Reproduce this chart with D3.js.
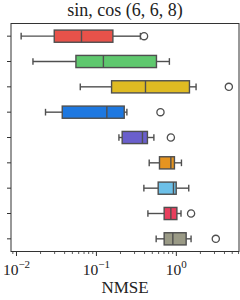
<!DOCTYPE html>
<meta charset="utf-8">
<style>
body { margin: 0; background: #fff; }
text { font-family: "Liberation Serif", "DejaVu Serif", serif; fill: #222; }
</style>
<body>
<script src="https://cdn.jsdelivr.net/npm/d3@7"></script>
<script>
// box stats per row (top to bottom), values in NMSE
var rows = ["r1", "r2", "r3", "r4", "r5", "r6", "r7", "r8", "r9"];
var whiskLo = [0.0116, 0.0163, 0.0637, 0.0234, 0.194, 0.464, 0.398, 0.447, 0.567];
var q1      = [0.0301, 0.0562, 0.157, 0.0379, 0.213, 0.624, 0.601, 0.714, 0.714];
var median  = [0.066, 0.124, 0.417, 0.137, 0.382, 0.866, 0.933, 0.866, 0.917];
var q3      = [0.163, 0.572, 1.48, 0.226, 0.441, 0.96, 1.01, 1.03, 1.345];
var whiskHi = [0.36, 0.83, 1.79, 0.244, 0.531, 1.175, 1.45, 1.16, 1.55];
var outliers = [[0.40], [], [4.6], [0.642], [0.866], [], [], [1.55], [3.16]];
var majorTicks = [0.01, 0.1, 1];
var tickExp = ["\u22122", "\u22121", "0"];

var colors = ["#e8524a", "#5fc86e", "#dfbb22", "#1e78e0", "#6a5fcc",
              "#e59420", "#6dc0e8", "#e83f5d", "#9a9a86"];
var edge = "#4f4f4f";

var W = 240, H = 300;
var margin = {top: 23.5, right: 1, bottom: 48.5, left: 11};

var svg = d3.select("body").append("svg")
    .attr("width", W)
    .attr("height", H);

var x = d3.scaleLog()
    .domain([Math.pow(10, -2.0625), Math.pow(10, 0.79)])
    .range([margin.left, W - margin.right]);

var y = d3.scaleBand()
    .domain(rows)
    .range([margin.top, H - margin.bottom])
    .padding(0);

var boxH = y.bandwidth() * 0.48;
var capH = boxH * 0.55;

// minor ticks
var minor = [];
[0.001, 0.01, 0.1, 1].forEach(function(d) {
  for (var k = 2; k <= 9; k++) {
    var v = d * k;
    if (v >= x.domain()[0] && v <= x.domain()[1]) minor.push(v);
  }
});

var bottom = H - margin.bottom;

svg.append("g")
    .attr("transform", "translate(0," + bottom + ")")
    .call(d3.axisBottom(x).tickValues(minor).tickSize(2.5).tickFormat(""))
    .call(function(g) {
      g.select(".domain").remove();
      g.selectAll("line").attr("stroke", "#333").attr("stroke-width", 0.8);
    });

var xAxis = svg.append("g")
    .attr("transform", "translate(0," + bottom + ")")
    .call(d3.axisBottom(x).tickValues(majorTicks).tickSize(4.5).tickFormat(""))
    .call(function(g) {
      g.select(".domain").remove();
      g.selectAll("line").attr("stroke", "#333").attr("stroke-width", 1);
    });

xAxis.selectAll(".tick").append("text")
    .attr("y", 23)
    .attr("text-anchor", "middle")
    .style("font-size", "15.5px")
    .each(function(d, i) {
      var t = d3.select(this);
      t.append("tspan").text("10");
      t.append("tspan")
        .attr("dy", "-6.5")
        .style("font-size", "11px")
        .text(tickExp[i]);
    });

svg.append("g")
    .attr("transform", "translate(" + margin.left + ",0)")
    .call(d3.axisLeft(y).tickSize(4).tickFormat(""))
    .call(function(g) {
      g.select(".domain").remove();
      g.selectAll("line").attr("stroke", "#333").attr("stroke-width", 1);
    });

// frame
svg.append("rect")
    .attr("x", margin.left)
    .attr("y", margin.top)
    .attr("width", W - margin.right - margin.left)
    .attr("height", bottom - margin.top)
    .attr("fill", "none")
    .attr("stroke", "#333")
    .attr("stroke-width", 1);

var g = svg.selectAll(".box")
    .data(rows)
  .enter().append("g")
    .attr("class", "box")
    .attr("transform", function(d) { return "translate(0," + (y(d) + y.bandwidth() / 2) + ")"; });

// whiskers
g.append("line")
    .attr("x1", function(d, i) { return x(whiskLo[i]); })
    .attr("x2", function(d, i) { return x(q1[i]); })
    .attr("stroke", edge).attr("stroke-width", 1.4);
g.append("line")
    .attr("x1", function(d, i) { return x(q3[i]); })
    .attr("x2", function(d, i) { return x(whiskHi[i]); })
    .attr("stroke", edge).attr("stroke-width", 1.4);
g.append("line")
    .attr("x1", function(d, i) { return x(whiskLo[i]); })
    .attr("x2", function(d, i) { return x(whiskLo[i]); })
    .attr("y1", -capH / 2).attr("y2", capH / 2)
    .attr("stroke", edge).attr("stroke-width", 1.4);
g.append("line")
    .attr("x1", function(d, i) { return x(whiskHi[i]); })
    .attr("x2", function(d, i) { return x(whiskHi[i]); })
    .attr("y1", -capH / 2).attr("y2", capH / 2)
    .attr("stroke", edge).attr("stroke-width", 1.4);

// boxes
g.append("rect")
    .attr("x", function(d, i) { return x(q1[i]); })
    .attr("y", -boxH / 2)
    .attr("width", function(d, i) { return x(q3[i]) - x(q1[i]); })
    .attr("height", boxH)
    .attr("fill", function(d, i) { return colors[i]; })
    .attr("stroke", edge).attr("stroke-width", 1.4);

g.append("line")
    .attr("x1", function(d, i) { return x(median[i]); })
    .attr("x2", function(d, i) { return x(median[i]); })
    .attr("y1", -boxH / 2).attr("y2", boxH / 2)
    .attr("stroke", edge).attr("stroke-width", 1.4);

// outliers
g.selectAll("circle")
    .data(function(d, i) { return outliers[i]; })
  .enter().append("circle")
    .attr("cx", function(v) { return x(v); })
    .attr("r", 3.6)
    .attr("fill", "#fff")
    .attr("stroke", edge).attr("stroke-width", 1.3);

svg.append("text")
    .attr("x", (margin.left + W - margin.right) / 2)
    .attr("y", 16)
    .attr("text-anchor", "middle")
    .style("font-size", "18px")
    .text("sin, cos (6, 6, 8)");

svg.append("text")
    .attr("x", (margin.left + W - margin.right) / 2)
    .attr("y", 293)
    .attr("text-anchor", "middle")
    .style("font-size", "17px")
    .text("NMSE");
</script>
</body>
